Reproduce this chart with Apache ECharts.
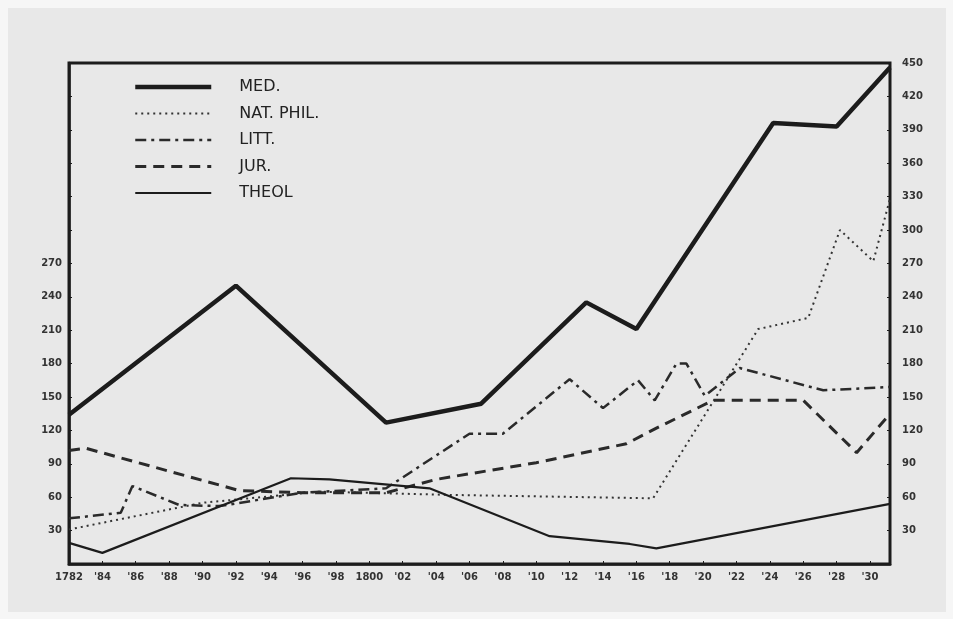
<!DOCTYPE html>
<html>
<head>
<meta charset="utf-8">
<script src="https://cdn.jsdelivr.net/npm/echarts@6/dist/echarts.min.js"></script>
<style>
  html, body { margin: 0; padding: 0; background: #f6f6f6; }
  #chart { width: 953px; height: 619px; }
</style>
</head>
<body>
<div id="chart"></div>
<script>
// student numbers per faculty as [year, count]
const med = [[1782, 134], [1792, 250], [1801, 127], [1806.7, 144], [1813, 235], [1816, 211], [1824.2, 396], [1828, 393], [1831.2, 446]]
const natPhil = [[1782, 31], [1790, 55], [1797, 65], [1805, 62], [1817, 59], [1823.3, 211], [1826.3, 221], [1828.2, 300], [1830.2, 272], [1831.2, 328]]
const litt = [[1782, 41], [1785.1, 46], [1785.8, 70], [1788.6, 53], [1791, 52], [1796, 64], [1801, 68], [1806, 117], [1808, 117], [1812, 166], [1814, 140], [1816.1, 165], [1817.1, 147], [1818.4, 180], [1819, 180], [1820.1, 151], [1822.2, 176], [1827.2, 156], [1831.2, 159]]
const jur = [[1782, 102], [1783, 104], [1792.2, 66], [1796, 64], [1801, 64], [1804, 76], [1810, 91], [1815.4, 108], [1817.2, 122], [1820.6, 147], [1826, 147], [1829.2, 100], [1831.2, 135]]
const theol = [[1782, 19], [1784, 10], [1795.3, 77], [1797.6, 76], [1803.6, 68], [1810.8, 25], [1815.6, 18], [1817.2, 14], [1831.2, 54]]

const seriesNames = ['MED.', 'NAT. PHIL.', 'LITT.', 'JUR.', 'THEOL']
const ink = '#1c1c1c'

// x labels: 1782, '84 ... 1800, '02 ... '30
function yearLabel (v) {
  if (v % 2 !== 0 || v > 1830) return ''
  if (v === 1782 || v === 1800) return String(v)
  return "'" + String(v).slice(2)
}

const axisFont = { fontFamily: 'DejaVu Sans', fontSize: 10, fontWeight: 'bold', color: '#333' }

const myChart = echarts.init(document.getElementById('chart'))
const option = {
  backgroundColor: '#f6f6f6',
  animation: false,
  graphic: [
    {
      type: 'rect',
      z: -10,
      shape: { x: 8, y: 8, width: 938, height: 604 },
      style: { fill: '#e8e8e8' }
    }
  ],
  grid: {
    left: 69,
    right: 63,
    top: 63,
    bottom: 55,
    show: true,
    borderColor: ink,
    borderWidth: 3
  },
  legend: {
    orient: 'vertical',
    left: 128,
    top: 74,
    itemWidth: 76,
    itemHeight: 14,
    itemGap: 10.5,
    data: seriesNames,
    // hide the marker dot, keep the line sample with the series width
    itemStyle: { opacity: 0 },
    lineStyle: { width: 'inherit' },
    textStyle: {
      fontFamily: 'DejaVu Sans',
      fontSize: 16,
      color: '#222',
      padding: [0, 0, 0, 23]
    }
  },
  xAxis: {
    type: 'value',
    min: 1782,
    max: 1831.2,
    interval: 2,
    splitLine: { show: false },
    axisLine: { lineStyle: { color: ink, width: 2.5 } },
    axisTick: { inside: true, length: 3, lineStyle: { color: ink } },
    axisLabel: Object.assign({ margin: 8, formatter: yearLabel, showMaxLabel: false }, axisFont)
  },
  yAxis: [
    {
      type: 'value',
      min: 0,
      max: 450,
      interval: 30,
      position: 'left',
      splitLine: { show: false },
      axisLine: { show: true, lineStyle: { color: ink, width: 2.5 } },
      axisTick: { show: true, inside: true, length: 3, lineStyle: { color: ink } },
      axisLabel: Object.assign({
        margin: 7,
        formatter: (v) => (v > 0 && v <= 270 ? String(v) : '')
      }, axisFont)
    },
    {
      type: 'value',
      min: 0,
      max: 450,
      interval: 30,
      position: 'right',
      splitLine: { show: false },
      axisLine: { show: true, lineStyle: { color: ink, width: 2 } },
      axisTick: { show: true, inside: true, length: 3, lineStyle: { color: ink } },
      axisLabel: Object.assign({
        margin: 12,
        formatter: (v) => (v > 0 ? String(v) : '')
      }, axisFont)
    }
  ],
  series: [
    {
      name: 'MED.',
      type: 'line',
      data: med,
      symbol: 'none',
      lineStyle: { color: ink, width: 4.5 },
      itemStyle: { color: ink }
    },
    {
      name: 'NAT. PHIL.',
      type: 'line',
      data: natPhil,
      symbol: 'none',
      lineStyle: { color: '#333', width: 2, type: [2, 4] },
      itemStyle: { color: '#333' }
    },
    {
      name: 'LITT.',
      type: 'line',
      data: litt,
      symbol: 'none',
      lineStyle: { color: '#2a2a2a', width: 2.5, type: [11, 5, 3, 5] },
      itemStyle: { color: '#2a2a2a' }
    },
    {
      name: 'JUR.',
      type: 'line',
      data: jur,
      symbol: 'none',
      lineStyle: { color: '#2a2a2a', width: 3, type: [11, 7] },
      itemStyle: { color: '#2a2a2a' }
    },
    {
      name: 'THEOL',
      type: 'line',
      data: theol,
      symbol: 'none',
      lineStyle: { color: ink, width: 2.2 },
      itemStyle: { color: ink }
    }
  ]
}
myChart.setOption(option)
</script>
</body>
</html>
